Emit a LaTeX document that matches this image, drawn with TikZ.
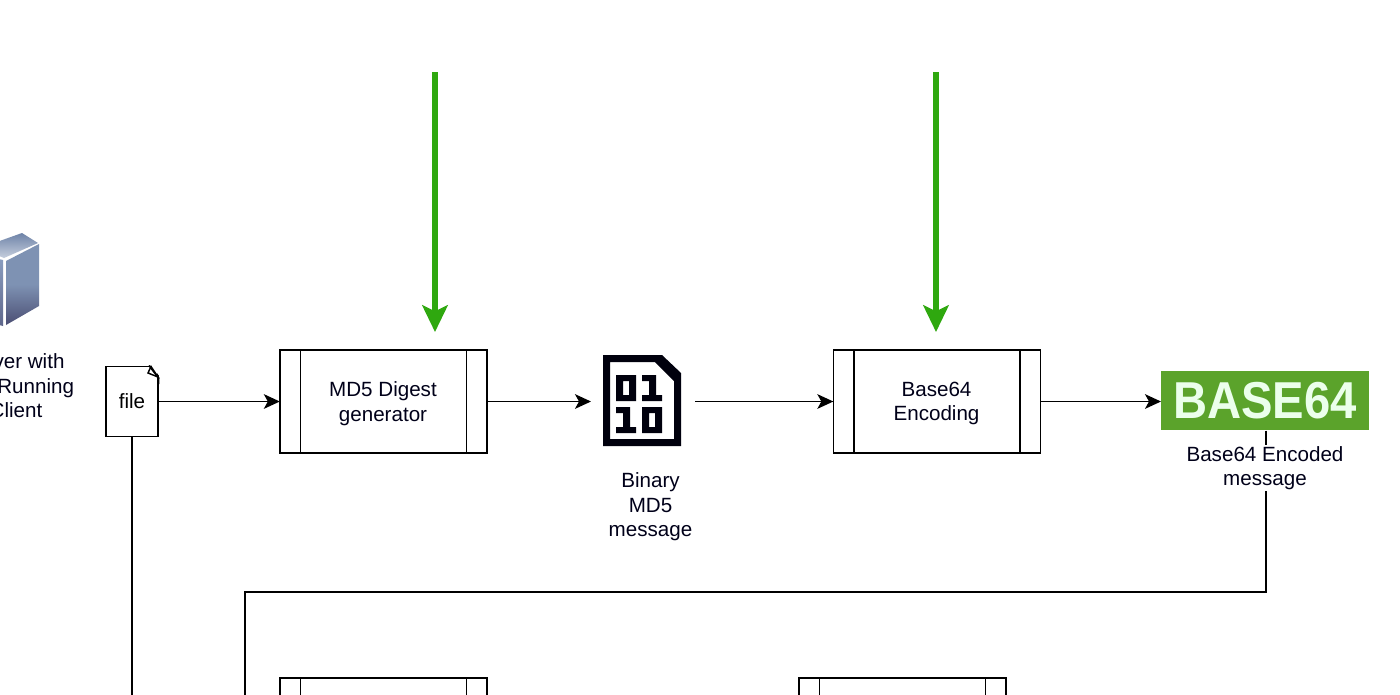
\documentclass[tikz,border=0pt]{standalone}
\usepackage{fontspec}
\setmainfont{Liberation Sans}
\usetikzlibrary{arrows.meta,calc}
\newcommand{\lblfont}{\fontsize{15.45pt}{18.4pt}\selectfont}
\definecolor{arrowgreen}{HTML}{2FA80F}
\definecolor{badgegreen}{HTML}{5BA32B}
\definecolor{srvlight}{HTML}{8CA0C2}
\definecolor{srvmid}{HTML}{7E92B3}
\definecolor{srvdark}{HTML}{4B4E73}
\definecolor{srvtop}{HTML}{6E83A8}
\definecolor{srvtoplow}{HTML}{C5CEDD}
\tikzset{
  lbl/.style={font=\lblfont,align=center,inner sep=0pt,outer sep=0pt,text=black!90!blue},
  procbox/.style={draw=black,line width=1.1pt,fill=white,minimum width=155.5pt,minimum height=77.5pt,
    inner sep=0pt,outer sep=0pt,font=\lblfont,align=center,
    path picture={
      \draw[line width=1.1pt]($(path picture bounding box.north west)+(15.5pt,0)$)--($(path picture bounding box.south west)+(15.5pt,0)$);
      \draw[line width=1.1pt]($(path picture bounding box.north east)+(-15.5pt,0)$)--($(path picture bounding box.south east)+(-15.5pt,0)$);
    }},
  flow/.style={line width=1.1pt,draw=black,-{Stealth[length=12pt,width=11pt,inset=3pt]}},
  plain/.style={line width=1.1pt,draw=black},
  bigarrow/.style={line width=4.6pt,draw=arrowgreen,-{Stealth[length=20pt,width=19pt,inset=4.5pt]}},
  icon/.style={inner sep=0pt,outer sep=0pt},
}
\begin{document}
\begin{tikzpicture}[x=0.75pt,y=-0.75pt]
\useasboundingbox (0,0) rectangle (1400,694);
\clip (0,0) rectangle (1400,694);
\fill[white] (0,0) rectangle (1400,694);

% server icon
\shade[top color=srvmid,bottom color=srvdark,middle color=srvmid] (6,261) -- (39,244) -- (39,306) -- (6,325) -- cycle;
\shade[top color=srvtop,bottom color=srvtoplow] (-20,248) -- (22,233) -- (38,243) -- (4,258) -- cycle;
\shade[top color=srvlight,bottom color=srvdark!70!srvlight] (-20,255) -- (3,260) -- (3,326) -- (-20,320) -- cycle;

\node[lbl] (serverlbl) at (13,386) {Server with\\\hspace*{34pt}Running\\\hspace*{4.5pt}Client};

% file
\node[draw=black,line width=1.1pt,fill=white,minimum width=39pt,minimum height=52.5pt,inner sep=0pt,outer sep=0pt,font=\lblfont] (file) at (132,401.5) {file};
\fill[white] (150,364) -- (161,364) -- (161,378) -- cycle;
\draw[line width=1.1pt,fill=white] (148,373) -- (151,366.5) -- (158,377) -- cycle;
\draw[line width=1.2pt] (149,365.5) -- (158.5,378) -- (158.5,384);

% process boxes
\node[procbox] (md5) at (383.5,401.5) {};
\node[lbl] (md5lbl) at (383,403.5) {MD5 Digest\\generator};
\node[procbox] (b64) at (937,401.5) {};
\node[lbl] (b64lbl) at (936.5,403.5) {Base64\\Encoding};
\node[procbox,anchor=north] (low1) at (383.5,678) {};
\node[procbox,anchor=north] (low2) at (902.5,678) {};

% binary icon
\node[icon,minimum width=78pt,minimum height=68pt] (bin) at (643,401.5) {};
\fill[fill=black!95!blue,even odd rule]
  (603,355) -- (662,355) -- (681,373) -- (681,446) -- (603,446) -- cycle
  (610,362) -- (655,362) -- (674,381) -- (674,439) -- (610,439) -- cycle;
\fill[black!95!blue,even odd rule] (616,375) rectangle (636,401) (623,381) rectangle (629,395);
\fill[black!95!blue] (642,375) -- (656,375) -- (656,395) -- (662,395) -- (662,401) -- (642,401) -- (642,395) -- (649,395) -- (649,381) -- (642,381) -- cycle;
\fill[black!95!blue] (616,407) -- (630,407) -- (630,427) -- (636,427) -- (636,433) -- (616,433) -- (616,427) -- (623,427) -- (623,413) -- (616,413) -- cycle;
\fill[black!95!blue,even odd rule] (642,407) rectangle (662,433) (649,413) rectangle (655,427);
\node[lbl] (binlbl) at (650.5,507) {Binary\\MD5\\message};

% base64 badge
\node[fill=badgegreen,minimum width=156pt,minimum height=44.5pt,inner sep=0pt,outer sep=0pt,text=white!92!green,font=\fontsize{35.4pt}{36pt}\selectfont\bfseries] (badge) at (1265,400.5) {\raisebox{-1pt}{\scalebox{1}[1.1]{BASE64}}};

% label under badge
\node[lbl,fill=white,inner xsep=0pt,inner ysep=1pt] (badgelbl) at (1265,468) {Base64 Encoded\\message};

% free ends
\coordinate (a1s) at (435,72);
\coordinate (a1e) at (435,332);
\coordinate (a2s) at (936,72);
\coordinate (a2e) at (936,332);
\coordinate (busR) at (1266,592);
\coordinate (busL) at (245,592);
\coordinate (busEnd) at (245,700);
\coordinate (fileEnd) at (132,700);
\coordinate (badgeOut) at (1266,430.5);

% connectors
\draw[bigarrow] (a1s) -- (a1e);
\draw[bigarrow] (a2s) -- (a2e);
\draw[flow] (file.east) -- (md5.west);
\draw[flow] (md5.east) -- (bin.west);
\draw[flow] (bin.east) -- (b64.west);
\draw[flow] (b64.east) -- (b64.east -| badge.west);
\draw[plain] (file.south) -- (fileEnd);
\draw[plain] (badgeOut) -- (badgelbl.north -| badgeOut);
\draw[plain] (badgelbl.south -| busR) -- (busR) -- (busL) -- (busEnd);
\end{tikzpicture}
\end{document}
